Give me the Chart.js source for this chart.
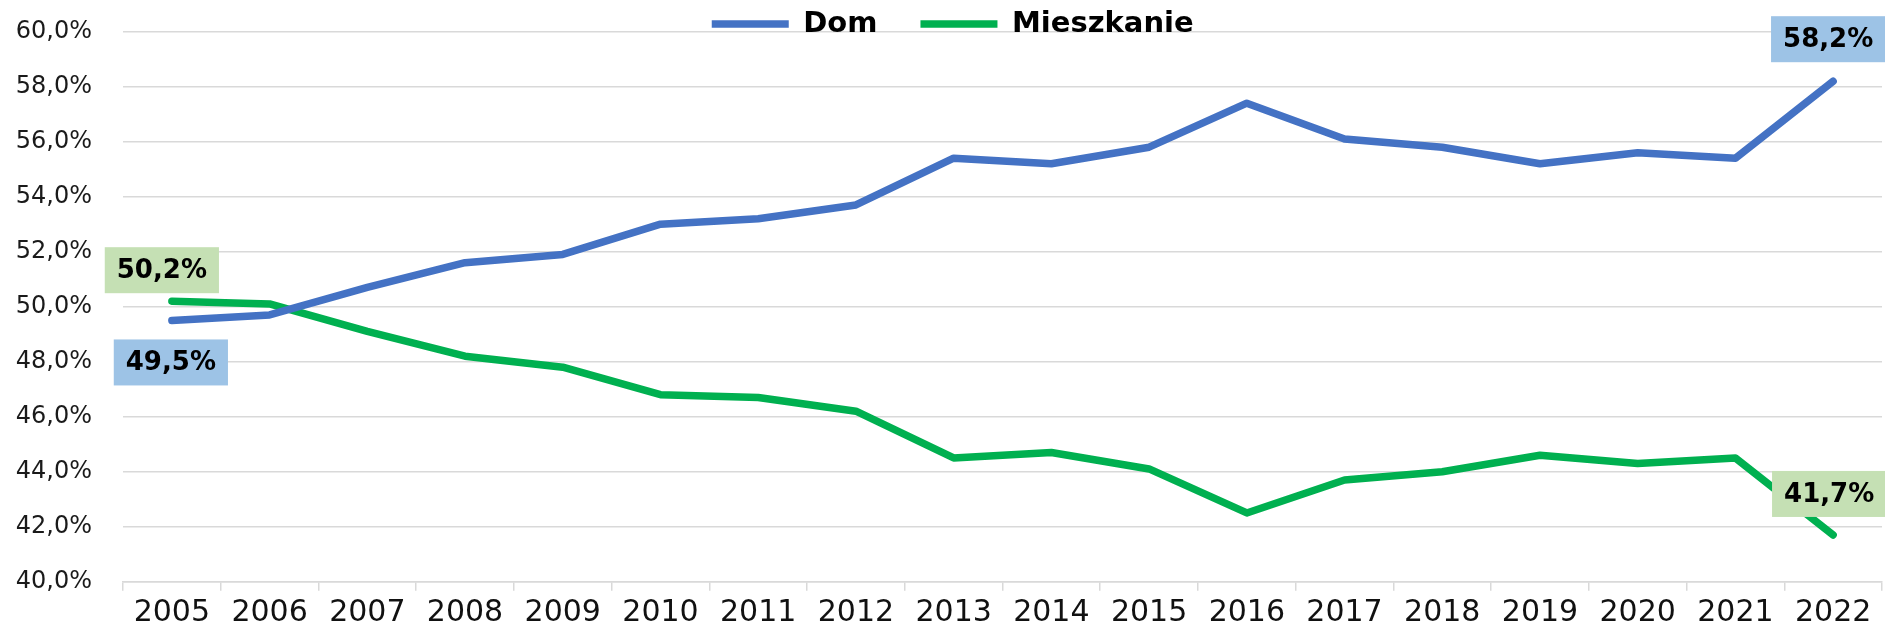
<!DOCTYPE html>
<html>
<head>
<meta charset="utf-8">
<script src="https://cdn.jsdelivr.net/npm/chart.js@4.4.1/dist/chart.umd.min.js"></script>
<style>
  html, body { margin: 0; padding: 0; background: #ffffff; }
  #wrap { width: 1885px; height: 631px; position: relative; }
</style>
</head>
<body>
<div id="wrap"><canvas id="c" width="1885" height="631"></canvas></div>
<script>
// ---- data ----
const years = ['2005','2006','2007','2008','2009','2010','2011','2012','2013','2014','2015','2016','2017','2018','2019','2020','2021','2022'];
const dom = [49.5, 49.7, 50.7, 51.6, 51.9, 53.0, 53.2, 53.7, 55.4, 55.2, 55.8, 57.4, 56.1, 55.8, 55.2, 55.6, 55.4, 58.2];
const mieszkanie = [50.2, 50.1, 49.1, 48.2, 47.8, 46.8, 46.7, 46.2, 44.5, 44.7, 44.1, 42.5, 43.7, 44.0, 44.6, 44.3, 44.5, 41.7];
const seriesNames = ['Dom', 'Mieszkanie'];
const yMin = 40, yMax = 60, yStep = 2;

// ---- styling ----
const FONT = "'DejaVu Sans', 'Verdana', sans-serif";
const BLUE = '#4472C4';
const GREEN = '#00B050';
const GRID = '#d9d9d9';

function fmtPct(v) { return v.toFixed(1).replace('.', ',') + '%'; }

// Boxed value labels at selected points (positions relative to the point)
const boxLabels = [
  { ds: 1, idx: 0, dx: -10, dy: -31, bg: '#C5E0B4' },
  { ds: 0, idx: 0, dx: -1, dy: 42, bg: '#9DC3E6' },
  { ds: 0, idx: 17, dx: -5, dy: -42, bg: '#9DC3E6' },
  { ds: 1, idx: 17, dx: -4, dy: -41, bg: '#C5E0B4' }
];

const pointBoxes = {
  id: 'pointBoxes',
  afterDatasetsDraw(chart) {
    const ctx = chart.ctx;
    ctx.save();
    ctx.font = "bold 26px " + FONT;
    ctx.textAlign = 'center';
    ctx.textBaseline = 'middle';
    boxLabels.forEach(b => {
      const el = chart.getDatasetMeta(b.ds).data[b.idx];
      const val = chart.data.datasets[b.ds].data[b.idx];
      const txt = fmtPct(val);
      const cx = el.x + b.dx, cy = el.y + b.dy;
      const w = ctx.measureText(txt).width + 24, h = 46;
      ctx.fillStyle = b.bg;
      ctx.fillRect(cx - w / 2, cy - h / 2, w, h);
      ctx.fillStyle = '#000';
      ctx.fillText(txt, cx, cy + 1);
    });
    ctx.restore();
  }
};

// Place the legend over the top gridline, as in the original
const LEGEND_PAD = 43;
const legendPlace = {
  id: 'legendPlace',
  afterLayout(chart) {
    const lg = chart.legend;
    if (!lg) return;
    lg.left = 711.75 - LEGEND_PAD;
    lg.top = 24 - LEGEND_PAD - 14.5;
    lg.bottom = lg.top + 140;
  }
};

new Chart(document.getElementById('c'), {
  type: 'line',
  data: {
    labels: years,
    datasets: [
      { label: seriesNames[0], data: dom, borderColor: BLUE, backgroundColor: BLUE, borderWidth: 7.5,
        pointRadius: 0, pointHoverRadius: 0, tension: 0, borderCapStyle: 'round', borderJoinStyle: 'round', fill: false },
      { label: seriesNames[1], data: mieszkanie, borderColor: GREEN, backgroundColor: GREEN, borderWidth: 7.5,
        pointRadius: 0, pointHoverRadius: 0, tension: 0, borderCapStyle: 'round', borderJoinStyle: 'round', fill: false }
    ]
  },
  options: {
    responsive: false,
    animation: false,
    devicePixelRatio: 1,
    layout: { padding: { top: 30.7, right: 3, left: 0, bottom: 0 } },
    plugins: {
      tooltip: { enabled: false },
      legend: {
        position: 'top',
        align: 'start',
        maxHeight: 1,
        labels: {
          usePointStyle: true,
          pointStyle: 'line',
          pointStyleWidth: 77,
          padding: LEGEND_PAD,
          color: '#000',
          font: { family: FONT, size: 29, weight: 'bold' }
        }
      }
    },
    scales: {
      x: {
        offset: true,
        grid: { display: true, drawOnChartArea: false, drawTicks: true, tickLength: 9, offset: true, color: GRID, lineWidth: 1.5 },
        border: { display: true, color: GRID, width: 1.5 },
        ticks: { color: '#111', font: { family: FONT, size: 30 }, padding: 5, autoSkip: false, maxRotation: 0 },
        afterFit(scale) { scale.height = 49.3; }
      },
      y: {
        min: yMin, max: yMax,
        grid: { color: GRID, lineWidth: 1.5, drawTicks: false },
        border: { display: false },
        ticks: { stepSize: yStep, color: '#1a1a1a', font: { family: FONT, size: 24 }, padding: 31,
                 callback: v => fmtPct(v) },
        afterFit(scale) { scale.width = 123; scale.paddingTop = 0; scale.paddingBottom = 0; }
      }
    }
  },
  plugins: [pointBoxes, legendPlace]
});
</script>
</body>
</html>
